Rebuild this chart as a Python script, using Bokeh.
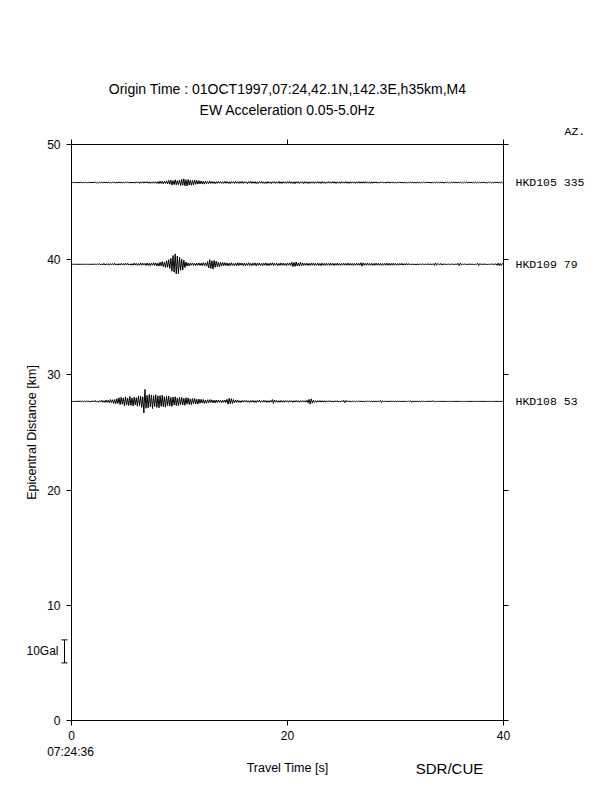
import numpy as np
from bokeh.plotting import figure
from bokeh.models import (Range1d, LinearAxis, FixedTicker, Label, Whisker,
                          TeeHead, ColumnDataSource)
from bokeh.embed import file_html
from bokeh.resources import INLINE

# ---------------- data ----------------
stations = ["HKD105", "HKD109", "HKD108"]
azimuths = ["335", "79", "53"]
distances_km = [46.7, 39.6, 27.7]
dt_s = 0.1                 # sample interval [s]
scale_gal = 10.0           # scale bar [Gal]
scale_bar_km = 2.0         # scale bar height on distance axis [km]
x_ticks = [0, 20, 40]
y_ticks = [0, 10, 20, 30, 40, 50]

# EW acceleration [Gal], one row = 2 s
acc_105 = [
    0.0, 0.1, -0.1, 0.1, -0.1, 0.0, 0.1, -0.1, 0.1, 0.0, -0.1, 0.1, -0.1, 0.1, 0.0, -0.1, 0.1, -0.1, 0.1, -0.1,
    0.2, -0.1, 0.2, -0.2, 0.1, -0.2, 0.2, -0.1, 0.2, -0.2, 0.1, -0.1, 0.2, -0.2, 0.2, -0.1, 0.1, -0.2, 0.2, -0.1,
    0.2, -0.3, 0.2, -0.2, 0.3, -0.2, 0.2, -0.3, 0.2, -0.2, 0.3, -0.2, 0.2, -0.2, 0.3, -0.3, 0.2, -0.2, 0.2, -0.3,
    0.3, -0.2, 0.3, -0.4, 0.3, -0.3, 0.4, -0.3, 0.3, -0.2, 0.4, -0.3, 0.3, -0.4, 0.3, -0.3, 0.4, -0.3, 0.3, -0.4,
    0.4, -0.5, 0.6, -0.4, 0.5, -0.6, 0.5, -0.4, 0.7, -0.6, 0.9, -0.7, 1.0, -1.1, 0.8, -0.9, 1.2, -1.0, 0.8, -0.9,
    1.1, -1.3, 1.4, -1.2, 1.6, -1.4, 1.2, -1.5, 1.3, -1.1, 1.0, -1.2, 0.9, -1.0, 1.1, -0.8, 0.9, -0.7, 0.8, -0.6,
    0.7, -0.6, 0.5, -0.7, 0.6, -0.5, 0.4, -0.5, 0.6, -0.4, 0.5, -0.4, 0.3, -0.5, 0.4, -0.4, 0.5, -0.3, 0.4, -0.4,
    0.3, -0.4, 0.5, -0.3, 0.4, -0.4, 0.3, -0.5, 0.4, -0.3, 0.4, -0.4, 0.5, -0.3, 0.3, -0.4, 0.4, -0.3, 0.5, -0.4,
    0.4, -0.3, 0.3, -0.5, 0.4, -0.3, 0.5, -0.4, 0.3, -0.3, 0.4, -0.5, 0.3, -0.4, 0.4, -0.3, 0.5, -0.4, 0.3, -0.4,
    0.3, -0.4, 0.4, -0.3, 0.3, -0.5, 0.4, -0.3, 0.4, -0.4, 0.3, -0.3, 0.5, -0.4, 0.3, -0.4, 0.4, -0.3, 0.3, -0.4,
    0.4, -0.3, 0.5, -0.4, 0.3, -0.4, 0.3, -0.5, 0.4, -0.3, 0.4, -0.4, 0.3, -0.3, 0.4, -0.5, 0.4, -0.3, 0.3, -0.4,
    0.3, -0.4, 0.3, -0.3, 0.4, -0.4, 0.3, -0.3, 0.4, -0.3, 0.3, -0.4, 0.4, -0.3, 0.3, -0.4, 0.3, -0.3, 0.4, -0.3,
    0.3, -0.3, 0.4, -0.3, 0.3, -0.4, 0.3, -0.3, 0.3, -0.4, 0.4, -0.3, 0.3, -0.3, 0.4, -0.3, 0.3, -0.4, 0.3, -0.3,
    0.3, -0.3, 0.3, -0.4, 0.3, -0.3, 0.4, -0.3, 0.3, -0.3, 0.3, -0.3, 0.4, -0.3, 0.3, -0.3, 0.3, -0.4, 0.3, -0.3,
    0.3, -0.2, 0.3, -0.3, 0.2, -0.3, 0.3, -0.2, 0.3, -0.3, 0.2, -0.3, 0.3, -0.2, 0.3, -0.3, 0.2, -0.2, 0.3, -0.3,
    0.2, -0.3, 0.2, -0.2, 0.3, -0.2, 0.2, -0.3, 0.2, -0.2, 0.2, -0.3, 0.2, -0.2, 0.3, -0.2, 0.2, -0.2, 0.2, -0.3,
    0.2, -0.2, 0.2, -0.3, 0.2, -0.2, 0.2, -0.2, 0.3, -0.2, 0.2, -0.2, 0.2, -0.3, 0.2, -0.2, 0.2, -0.2, 0.3, -0.2,
    0.2, -0.2, 0.2, -0.2, 0.2, -0.3, 0.2, -0.2, 0.2, -0.2, 0.2, -0.2, 0.3, -0.2, 0.2, -0.2, 0.2, -0.2, 0.2, -0.2,
    0.2, -0.2, 0.2, -0.2, 0.2, -0.2, 0.2, -0.2, 0.2, -0.2, 0.2, -0.2, 0.2, -0.2, 0.2, -0.2, 0.2, -0.2, 0.2, -0.2,
    0.2, -0.1, 0.2, -0.2, 0.1, -0.2, 0.2, -0.1, 0.2, -0.2, 0.1, -0.2, 0.2, -0.1, 0.2, -0.2, 0.1, -0.2, 0.2, -0.1,
    0.0,
]

acc_109 = [
    0.0, 0.0, 0.0, 0.0, 0.0, 0.0, 0.0, 0.0, 0.0, 0.0, 0.0, 0.0, 0.0, 0.0, 0.0, 0.0, 0.0, 0.0, 0.0, 0.0,
    0.0, 0.0, 0.1, -0.2, 0.3, -0.2, 0.3, -0.3, 0.2, -0.3, 0.4, -0.3, 0.2, -0.2, 0.3, -0.4, 0.3, -0.2, 0.3, -0.3,
    0.4, -0.3, 0.2, -0.4, 0.3, -0.3, 0.4, -0.2, 0.3, -0.4, 0.5, -0.3, 0.4, -0.3, 0.2, -0.4, 0.3, -0.4, 0.5, -0.3,
    0.4, -0.5, 0.3, -0.4, 0.6, -0.4, 0.5, -0.3, 0.4, -0.5, 0.6, -0.5, 0.4, -0.6, 0.5, -0.4, 0.7, -0.5, 0.6, -0.7,
    0.5, -0.8, 0.9, -0.7, 1.2, -1.0, 0.9, -1.4, 1.6, -1.3, 2.0, -1.8, 2.6, -3.0, 3.8, -3.4, 4.5, -4.2, 3.6, -4.0,
    3.0, -2.6, 2.2, -2.5, 1.8, -1.4, 1.0, -0.8, 0.6, -0.7, 0.5, -0.4, 0.6, -0.5, 0.4, -0.6, 0.5, -0.4, 0.6, -0.5,
    0.5, -0.6, 0.7, -0.5, 0.6, -0.8, 1.2, -1.6, 2.0, -1.8, 1.5, -2.1, 1.7, -1.3, 1.4, -1.0, 0.9, -1.1, 0.8, -0.7,
    0.8, -0.6, 0.7, -0.5, 0.6, -0.7, 0.5, -0.6, 0.7, -0.5, 0.4, -0.6, 0.5, -0.6, 0.7, -0.5, 0.6, -0.4, 0.5, -0.6,
    0.5, -0.6, 0.4, -0.5, 0.7, -0.5, 0.4, -0.6, 0.5, -0.4, 0.6, -0.7, 0.5, -0.4, 0.6, -0.5, 0.4, -0.6, 0.5, -0.4,
    0.6, -0.5, 0.4, -0.6, 0.5, -0.4, 0.7, -0.6, 0.5, -0.4, 0.5, -0.6, 0.4, -0.5, 0.6, -0.4, 0.5, -0.5, 0.4, -0.6,
    0.5, -0.4, 0.6, -0.5, 0.9, -1.0, 0.8, -0.9, 1.0, -0.7, 0.6, -0.8, 0.9, -0.6, 0.6, -0.5, 0.4, -0.4, 0.5, -0.5,
    0.4, -0.5, 0.5, -0.4, 0.6, -0.5, 0.4, -0.4, 0.5, -0.5, 0.4, -0.6, 0.5, -0.4, 0.4, -0.5, 0.5, -0.4, 0.4, -0.5,
    0.5, -0.4, 0.4, -0.5, 0.4, -0.4, 0.5, -0.4, 0.4, -0.5, 0.4, -0.4, 0.5, -0.4, 0.4, -0.4, 0.5, -0.4, 0.4, -0.4,
    0.4, -0.5, 0.4, -0.4, 0.5, -0.4, 0.4, -0.4, 0.7, -0.8, 0.6, -0.4, 0.4, -0.4, 0.5, -0.4, 0.4, -0.4, 0.4, -0.5,
    0.4, -0.4, 0.5, -0.4, 0.4, -0.4, 0.4, -0.5, 0.4, -0.4, 0.4, -0.4, 0.5, -0.4, 0.4, -0.4, 0.4, -0.4, 0.5, -0.4,
    0.4, -0.4, 0.3, -0.4, 0.4, -0.3, 0.4, -0.4, 0.3, -0.3, 0.4, -0.3, 0.3, -0.3, 0.2, -0.3, 0.2, -0.2, 0.1, -0.2,
    0.1, -0.1, 0.0, 0.1, -0.1, 0.1, 0.0, -0.1, 0.1, -0.1, 0.2, -0.1, 0.1, 0.0, -0.1, 0.3, -0.5, 0.6, -0.4, 0.3,
    0.1, -0.2, 0.4, -0.3, 0.1, 0.0, 0.1, -0.1, 0.0, 0.1, -0.1, 0.0, 0.1, 0.0, -0.1, 0.1, 0.0, 0.0, 0.4, -0.6,
    0.5, -0.2, 0.0, 0.0, 0.1, 0.0, -0.1, 0.0, 0.0, 0.1, 0.0, 0.0, 0.0, -0.1, 0.0, 0.0, 0.4, -0.5, 0.3, 0.0,
    0.0, 0.0, 0.1, 0.0, 0.0, -0.1, 0.0, 0.0, 0.0, 0.1, 0.0, 0.0, 0.0, 0.2, -0.4, 0.5, -0.6, 0.4, -0.5, 0.3,
    0.0,
]

acc_108 = [
    0.0, 0.0, 0.0, 0.0, 0.0, 0.0, 0.0, 0.0, 0.1, -0.1, 0.2, -0.2, 0.1, -0.2, 0.3, -0.2, 0.2, -0.3, 0.2, -0.2,
    0.3, -0.2, 0.4, -0.3, 0.2, -0.4, 0.3, -0.3, 0.5, -0.4, 0.3, -0.5, 0.6, -0.4, 0.5, -0.6, 0.8, -0.6, 0.7, -0.9,
    0.8, -1.0, 1.2, -0.9, 1.6, -1.4, 1.8, -1.2, 1.5, -1.9, 2.0, -1.6, 1.4, -1.8, 2.2, -1.7, 1.5, -2.0, 1.8, -1.5,
    1.6, -2.1, 2.4, -1.9, 2.2, -2.6, 2.0, -5.0, 5.2, -3.0, 2.6, -2.8, 3.0, -2.4, 2.8, -3.1, 2.5, -2.2, 2.9, -2.6,
    2.4, -2.8, 2.5, -2.1, 2.7, -2.3, 2.0, -2.5, 2.2, -1.8, 2.3, -2.0, 1.7, -2.2, 1.9, -1.6, 2.0, -1.8, 1.5, -1.9,
    1.7, -1.4, 1.8, -1.5, 1.3, -1.7, 1.6, -1.2, 1.5, -1.3, 1.1, -1.4, 1.2, -1.0, 1.3, -1.1, 0.9, -1.2, 1.0, -0.8,
    0.9, -0.7, 0.8, -0.9, 0.6, -0.8, 0.7, -0.6, 0.8, -0.5, 0.7, -0.6, 0.5, -0.7, 0.6, -0.5, 0.6, -0.4, 0.5, -0.6,
    0.5, -0.4, 0.6, -0.5, 0.9, -1.2, 1.3, -1.0, 1.2, -0.9, 0.8, -0.6, 0.5, -0.4, 0.5, -0.4, 0.3, -0.5, 0.4, -0.3,
    0.4, -0.3, 0.5, -0.4, 0.3, -0.5, 0.4, -0.3, 0.4, -0.4, 0.3, -0.5, 0.4, -0.3, 0.5, -0.4, 0.3, -0.4, 0.5, -0.3,
    0.4, -0.5, 0.3, -0.4, 0.4, -0.3, 0.8, -0.9, 0.6, -0.3, 0.4, -0.4, 0.3, -0.4, 0.4, -0.3, 0.3, -0.4, 0.4, -0.3,
    0.3, -0.4, 0.4, -0.3, 0.3, -0.4, 0.3, -0.3, 0.4, -0.3, 0.3, -0.4, 0.3, -0.3, 0.4, -0.3, 0.3, -0.3, 0.5, -0.6,
    0.9, -1.2, 1.1, -0.7, 0.5, -0.4, 0.3, -0.4, 0.3, -0.3, 0.4, -0.3, 0.3, -0.3, 0.3, -0.4, 0.3, -0.3, 0.3, -0.3,
    0.3, -0.3, 0.2, -0.3, 0.3, -0.2, 0.3, -0.3, 0.2, -0.3, 0.3, -0.2, 0.5, -0.6, 0.4, -0.2, 0.3, -0.2, 0.2, -0.3,
    0.2, -0.1, 0.1, -0.2, 0.1, -0.1, 0.2, -0.1, 0.1, -0.1, 0.1, -0.2, 0.1, -0.1, 0.1, -0.1, 0.2, -0.1, 0.1, -0.1,
    0.1, -0.1, 0.1, -0.1, 0.1, -0.1, 0.4, -0.5, 0.3, -0.1, 0.1, -0.1, 0.1, -0.1, 0.1, -0.1, 0.1, -0.1, 0.1, -0.1,
    0.1, -0.1, 0.1, -0.1, 0.1, -0.1, 0.1, -0.1, 0.1, -0.1, 0.1, -0.1, 0.1, -0.1, 0.3, -0.4, 0.2, -0.1, 0.1, -0.1,
    0.1, -0.1, 0.1, -0.1, 0.1, -0.1, 0.1, -0.1, 0.1, -0.1, 0.1, -0.1, 0.1, 0.0, 0.0, 0.3, -0.3, 0.0, 0.0, 0.0,
    0.0, 0.0, 0.0, 0.0, 0.0, 0.0, 0.0, 0.0, 0.0, 0.0, 0.0, 0.0, 0.0, 0.0, 0.0, 0.0, 0.0, 0.0, 0.0, 0.0,
    0.0, 0.0, 0.0, 0.0, 0.0, 0.0, 0.0, 0.0, 0.0, 0.0, 0.0, 0.0, 0.0, 0.0, 0.0, 0.0, 0.0, 0.0, 0.0, 0.0,
    0.0, 0.0, 0.0, 0.0, 0.0, 0.0, 0.0, 0.0, 0.0, 0.0, 0.0, 0.0, 0.0, 0.0, 0.0, 0.0, 0.0, 0.0, 0.0, 0.0,
    0.0,
]
traces = [acc_105, acc_109, acc_108]

# ---------------- layout (pixels) ----------------
W, H = 600, 784
PX0, PX1 = 71, 503       # canvas x of t=0 and t=40
PY0, PY1 = 720, 144      # canvas y of 0 km and 50 km
sx = (PX1 - PX0) / 40.0
sy = (PY0 - PY1) / 50.0

def X(px):
    return (px - PX0) / sx

def Y(py):
    return (PY0 - py) / sy

p = figure(width=W, height=H,
           x_range=Range1d(X(0), X(W)), y_range=Range1d(Y(H), Y(0)),
           x_axis_location=None, y_axis_location=None,
           min_border=0, min_border_left=0, min_border_right=0,
           min_border_top=0, min_border_bottom=0,
           output_backend="svg", toolbar_location=None)
p.background_fill_color = "white"
p.border_fill_color = "white"
p.outline_line_color = None
p.xgrid.visible = False
p.ygrid.visible = False

FONT = "Liberation Sans"
MONO = "Liberation Mono"

def make_axis(ticks, loc, bounds, labels=True):
    ax = LinearAxis(fixed_location=loc, bounds=bounds)
    ax.ticker = FixedTicker(ticks=ticks)
    ax.minor_tick_line_color = None
    ax.major_tick_in = 0
    ax.major_tick_out = 5
    ax.axis_line_color = "black"
    ax.major_tick_line_color = "black"
    ax.major_label_text_font = FONT
    ax.major_label_text_font_size = "12px"
    ax.major_label_text_color = "black"
    if not labels:
        ax.major_label_overrides = {t: "" for t in ticks}
    ax.axis_label_text_font = FONT
    ax.axis_label_text_font_size = "12.5px"
    ax.axis_label_text_font_style = "normal"
    ax.axis_label_text_color = "black"
    return ax

ax_b = make_axis(x_ticks, 0, (0, 40))
ax_b.axis_label = "Travel Time [s]"
ax_b.major_label_standoff = 5
ax_b.axis_label_standoff = 18
p.add_layout(ax_b, "below")

ax_l = make_axis(y_ticks, 0, (0, 50))
ax_l.axis_label = "Epicentral Distance [km]"
ax_l.major_label_standoff = 6
ax_l.axis_label_standoff = 5
p.add_layout(ax_l, "left")

ax_t = make_axis(x_ticks, 50, (0, 40), labels=False)
p.add_layout(ax_t, "above")
ax_r = make_axis(y_ticks, 40, (0, 50), labels=False)
p.add_layout(ax_r, "right")

# traces
gal_to_km = scale_bar_km / scale_gal
for dist, acc in zip(distances_km, traces):
    a = np.array(acc)
    t = np.arange(len(a)) * dt_s
    p.line(t, dist + a * gal_to_km, line_color="black", line_width=1)

def add_text(x, y, text, font=FONT, size="12px", align="left"):
    p.add_layout(Label(x=x, y=y, text=text, text_font=font,
                       text_font_size=size, text_align=align,
                       text_baseline="middle", text_color="black"))

# station labels
for st, az, dist in zip(stations, azimuths, distances_km):
    add_text(X(515), dist, f"{st} {az}", font=MONO, size="11.5px")
add_text(X(564), Y(131), "AZ.", font=MONO, size="11.5px")

# titles
add_text(X(287), Y(88), "Origin Time : 01OCT1997,07:24,42.1N,142.3E,h35km,M4",
         size="14px", align="center")
add_text(X(287), Y(109), "EW Acceleration 0.05-5.0Hz", size="14px", align="center")

# start time and credit
add_text(X(70), Y(751), "07:24:36", size="12px", align="center")
add_text(X(449), Y(768), "SDR/CUE", size="15px", align="center")

# scale bar
bar_lo = 5.0
wsrc = ColumnDataSource(dict(base=[X(64)], lower=[bar_lo], upper=[bar_lo + scale_bar_km]))
p.add_layout(Whisker(source=wsrc, base="base", lower="lower", upper="upper",
                     dimension="height", line_color="black", line_width=1,
                     upper_head=TeeHead(size=6, line_color="black"),
                     lower_head=TeeHead(size=6, line_color="black")))
add_text(X(58), bar_lo + scale_bar_km / 2, "10Gal", size="12px", align="right")

open("out.html", "w").write(file_html(p, INLINE))
